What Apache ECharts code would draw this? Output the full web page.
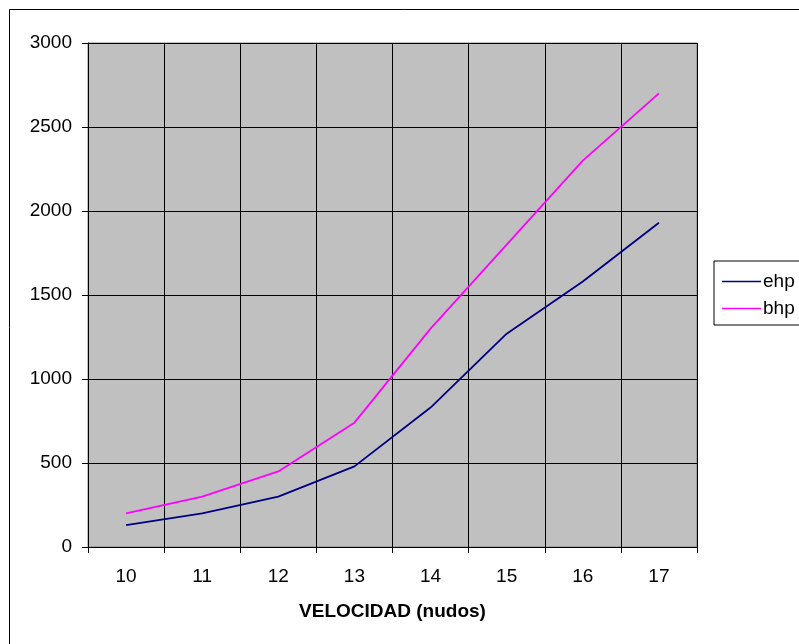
<!DOCTYPE html>
<html>
<head>
<meta charset="utf-8">
<script src="https://cdn.jsdelivr.net/npm/echarts@6/dist/echarts.min.js"></script>
<style>
html,body{margin:0;padding:0;background:#fff;}
#chart{width:799px;height:644px;}
</style>
</head>
<body>
<div id="chart"></div>
<script>
const categories = ['10', '11', '12', '13', '14', '15', '16', '17'];
const ehp = [130, 200, 300, 480, 830, 1270, 1580, 1930];
const bhp = [200, 300, 450, 740, 1300, 1800, 2300, 2700];
const seriesNames = ['ehp', 'bhp'];
const xAxisTitle = 'VELOCIDAD (nudos)';
const yMin = 0, yMax = 3000, yStep = 500;

const FONT = '"Liberation Sans", Arial, sans-serif';
const chart = echarts.init(document.getElementById('chart'), null, {renderer: 'canvas'});
chart.setOption({
  animation: false,
  backgroundColor: '#ffffff',
  graphic: [{
    type: 'rect',
    shape: {x: 9.5, y: 9.5, width: 900, height: 900},
    style: {fill: 'none', stroke: '#000000', lineWidth: 1},
    z: -1
  }],
  grid: {
    left: 88, right: 102, top: 43, bottom: 97,
    show: true, backgroundColor: '#C0C0C0',
    borderColor: '#808080', borderWidth: 1
  },
  legend: {
    data: seriesNames,
    orient: 'vertical',
    left: 714, top: 261,
    padding: [11, 40, 7, 8],
    itemGap: 8,
    itemWidth: 39, itemHeight: 1.5,
    icon: 'rect',
    borderColor: '#000000', borderWidth: 1,
    backgroundColor: '#ffffff',
    textStyle: {fontFamily: FONT, fontSize: 19, color: '#000', lineHeight: 19, padding: [0, 0, 0, -3]}
  },
  xAxis: {
    type: 'category',
    data: categories,
    boundaryGap: true,
    name: xAxisTitle,
    nameLocation: 'middle',
    nameGap: 55,
    nameTextStyle: {fontFamily: FONT, fontSize: 19, fontWeight: 'bold', color: '#000'},
    axisLine: {lineStyle: {color: '#000', width: 1}},
    axisTick: {show: true, inside: false, length: 6, alignWithLabel: false, lineStyle: {color: '#000'}},
    axisLabel: {fontFamily: FONT, fontSize: 19, color: '#000', margin: 20},
    splitLine: {show: true, lineStyle: {color: '#000', width: 1}}
  },
  yAxis: {
    type: 'value',
    min: yMin, max: yMax, interval: yStep,
    axisLine: {show: true, lineStyle: {color: '#000', width: 1}},
    axisTick: {show: true, inside: false, length: 6, lineStyle: {color: '#000'}},
    axisLabel: {fontFamily: FONT, fontSize: 19, color: '#000', margin: 16,
      formatter: function (v) { return String(v); }},
    splitLine: {show: true, lineStyle: {color: '#000', width: 1}}
  },
  series: [
    {name: seriesNames[0], type: 'line', data: ehp, symbol: 'none', color: '#000080',
     lineStyle: {color: '#000080', width: 1.8}},
    {name: seriesNames[1], type: 'line', data: bhp, symbol: 'none', color: '#FF00FF',
     lineStyle: {color: '#FF00FF', width: 1.8}}
  ]
});
</script>
</body>
</html>
